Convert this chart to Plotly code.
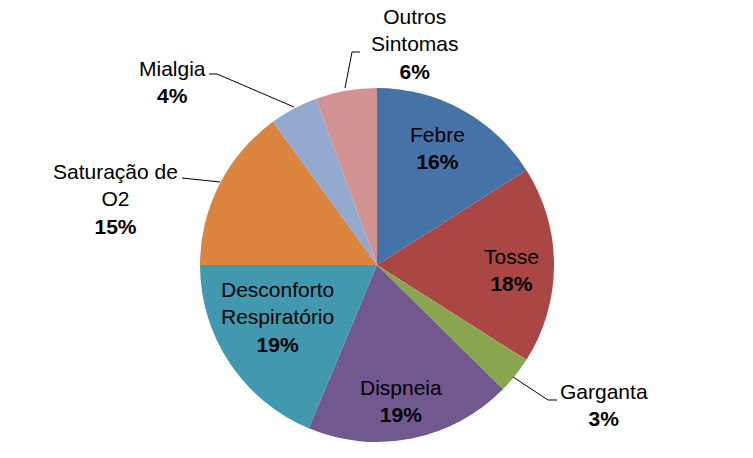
import plotly.graph_objects as go

W, H = 753, 458

# Data
categories = ["Febre", "Tosse", "Garganta", "Dispneia", "Desconforto Respiratório",
              "Saturação de O2", "Mialgia", "Outros Sintomas"]
display_names = ["Febre", "Tosse", "Garganta", "Dispneia", "Desconforto<br>Respiratório",
                 "Saturação de<br>O2", "Mialgia", "Outros<br>Sintomas"]
values = [16, 18, 3.4, 18.9, 18.7, 15, 4.4, 5.6]
pct_labels = ["16%", "18%", "3%", "19%", "19%", "15%", "4%", "6%"]
colors = ["#4572A7", "#AA4643", "#89A54E", "#71588F", "#4198AF",
          "#DB843D", "#93A9CF", "#D19392"]

def px(x):
    return x / W

def py(y):
    return 1 - y / H

# pie geometry (pixels)
cx, cy, r = 377, 265, 177

fig = go.Figure(go.Pie(
    labels=categories,
    values=values,
    sort=False,
    direction="clockwise",
    rotation=0,
    textinfo="none",
    hoverinfo="label+percent",
    marker=dict(colors=colors, line=dict(width=0)),
    domain=dict(x=[px(cx - r), px(cx + r)], y=[py(cy + r), py(cy - r)]),
    showlegend=False,
))

# label centres (pixels)
label_pos = [(437, 148), (512, 270), (604, 405), (401, 401),
             (277, 317), (115, 199), (172, 82), (415, 44)]

annotations = []
for name, pct, (x, y) in zip(display_names, pct_labels, label_pos):
    annotations.append(dict(
        x=px(x), y=py(y), xref="paper", yref="paper",
        text=f"{name}<br><b>{pct}</b>", showarrow=False,
        xanchor="center", yanchor="middle",
        font=dict(family="Liberation Sans, Arial", size=21, color="#000000"),
    ))

# leader lines (pixels)
leaders = [
    [(557, 400), (548, 400), (513, 377)],   # Garganta
    [(182, 178), (220, 182)],               # Saturação
    [(209, 74), (217, 74), (294, 107)],     # Mialgia
    [(360, 52), (352, 52), (345, 88)],      # Outros
]
shapes = []
for pts in leaders:
    path = "M " + " L ".join(f"{px(x)},{py(y)}" for x, y in pts)
    shapes.append(dict(type="path", xref="paper", yref="paper", path=path,
                       line=dict(color="#000000", width=1)))

fig.update_layout(
    width=W, height=H,
    margin=dict(l=0, r=0, t=0, b=0),
    paper_bgcolor="white",
    plot_bgcolor="white",
    annotations=annotations,
    shapes=shapes,
)

fig.write_html("out.html")
